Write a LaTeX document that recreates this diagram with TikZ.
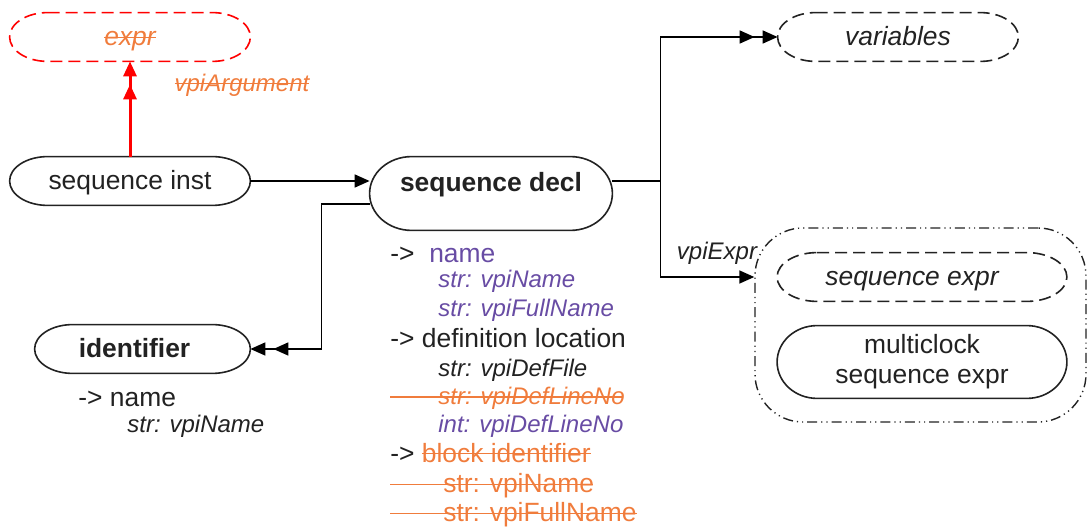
\documentclass[tikz,border=0pt]{standalone}
\usepackage{fontspec}
\setmainfont{Liberation Sans}
\usetikzlibrary{arrows.meta,positioning,calc}

\definecolor{vpipurple}{RGB}{104,76,164}
\definecolor{vpiorange}{RGB}{240,124,60}
\definecolor{vpitext}{RGB}{34,34,34}
\newsavebox{\strkbox}
\newcommand{\strk}[1]{\sbox{\strkbox}{#1}\rlap{\rule[0.3em]{\wd\strkbox}{0.7pt}}\usebox{\strkbox}}
\newcommand{\xline}[1]{\makebox[0pt][l]{\color{vpiorange}\rule[0.3em]{#1}{0.7pt}}}
% outline with elliptic ends round a node: [line style]{node}{end radius}
\newcommand{\ovalnode}[3][objline]{%
  \draw[#1] let \p1=(#2.north east), \p2=(#2.south west), \n1={(\y1-\y2)/2} in
    (\x2+#3,\y1) -- (\x1-#3,\y1) arc[start angle=90,end angle=-90,x radius=#3,y radius=\n1]
    -- (\x2+#3,\y2) arc[start angle=270,end angle=90,x radius=#3,y radius=\n1] -- cycle;}

\tikzset{
  objnode/.style={inner sep=2pt, minimum height=24pt, font=\fontsize{13.2}{15}\selectfont},
  oneline/.style={objnode, text height=10.5pt, text depth=1.5pt},
  objline/.style={draw=vpitext, line width=0.8pt},
  optline/.style={objline, dash pattern=on 6pt off 3pt},
  lbl/.style={font=\fontsize{12}{14}\selectfont\itshape, inner sep=0pt},
  attr/.style={anchor=base west, inner sep=0pt, font=\fontsize{13.2}{15}\selectfont},
  subattr/.style={anchor=base west, inner sep=0pt, font=\fontsize{12}{14}\selectfont},
  onehead/.style={-{Triangle[length=7.5pt,width=6.5pt]}},
  twohead/.style={-{Triangle[length=7.5pt,width=6.5pt,sep=4pt]Triangle[length=7.5pt,width=6.5pt]}},
}

\begin{document}
\begin{tikzpicture}[x=0.5pt,y=-0.5pt,text=vpitext]
  \useasboundingbox (0,0) rectangle (1088,529);

  % objects
  \node[oneline, minimum width=120pt] (expr) at (130,37) {\color{vpiorange}\itshape\strk{expr}};
  \ovalnode[optline, draw=red]{expr}{19pt}
  \node[oneline, minimum width=120pt] (inst) at (130,181) {sequence inst};
  \ovalnode{inst}{19pt}
  \node[objnode, minimum width=121pt, inner ysep=0pt, text height=17.5pt, text depth=19pt, font=\fontsize{13.2}{15}\selectfont\bfseries] (decl) at (491,193.5) {sequence decl};
  \ovalnode{decl}{21pt}
  \node[oneline, minimum width=120pt] (vars) at (898,37) {\itshape variables};
  \ovalnode[optline]{vars}{19pt}
  \node[oneline, minimum width=107.5pt, font=\fontsize{13.2}{15}\selectfont\bfseries] (ident) at (142.5,349) {\hspace*{-8pt}identifier};
  \ovalnode{ident}{19pt}

  % expression group
  \node[draw=vpitext, line width=0.7pt, rounded corners=24pt, dash pattern=on 5pt off 2pt on 0.6pt off 2pt on 0.6pt off 2pt, minimum width=165.5pt, minimum height=97pt] (grp) at (920.5,325) {};
  \node[oneline, minimum width=144.5pt] (sexpr) at (922,277) {\hspace*{-10pt}\itshape sequence expr};
  \ovalnode[optline]{sexpr}{20pt}
  \node[objnode, minimum width=144.5pt, minimum height=36pt, align=center] (mexpr) at (922,362) {multiclock\\sequence expr};
  \ovalnode{mexpr}{20pt}

  % connectors
  \draw[red, line width=1.5pt, twohead] (inst) -- (expr);
  \node[lbl, text=vpiorange] (arglbl) at (242,85) {\strk{vpiArgument}};
  \draw[line width=0.8pt, onehead] (inst.east) -- (inst.east -| decl.west);
  \draw[line width=0.8pt, twohead] (decl.east |- inst.east) -- ++(48,0) coordinate (split) |- (vars.west);
  \draw[line width=0.8pt, onehead] (split) |- (grp.west |- sexpr.west);
  \node[lbl] (exprlbl) at (717,253) {vpiExpr};
  \draw[line width=0.8pt, twohead] ([yshift=-5.25pt]decl.west) -- ++(-48,0) |- (ident.east);

  % sequence decl attributes
  \node[attr] (n1) at (390,263) {->\ \ \textcolor{vpipurple}{name}};
  \node[subattr, text=vpipurple] (n1a) at (438,288) {\itshape str: vpiName};
  \node[subattr, text=vpipurple] (n1b) at (438,317) {\itshape str: vpiFullName};
  \node[attr] (n2) at (390,348) {-> definition location};
  \node[subattr] (n2a) at (438,377) {\itshape str: vpiDefFile};
  \node[subattr, text=vpiorange] (n2b) at (390,405) {\xline{116pt}\hspace*{24pt}\itshape str: vpiDefLineNo};
  \node[subattr, text=vpipurple] (n2c) at (438,432) {\itshape int: vpiDefLineNo};
  \node[attr] (n3) at (390,462) {-> \textcolor{vpiorange}{\strk{block identifier}}};
  \node[attr, text=vpiorange] (n3a) at (390,493) {\xline{101.5pt}\hspace*{26.5pt}str: vpiName};
  \node[attr, text=vpiorange] (n3b) at (390,522) {\xline{123.5pt}\hspace*{26.5pt}str: vpiFullName};

  % identifier attributes
  \node[attr] (m1) at (78,407) {-> name};
  \node[subattr] (m1a) at (127,433) {\itshape str: vpiName};
\end{tikzpicture}
\end{document}
